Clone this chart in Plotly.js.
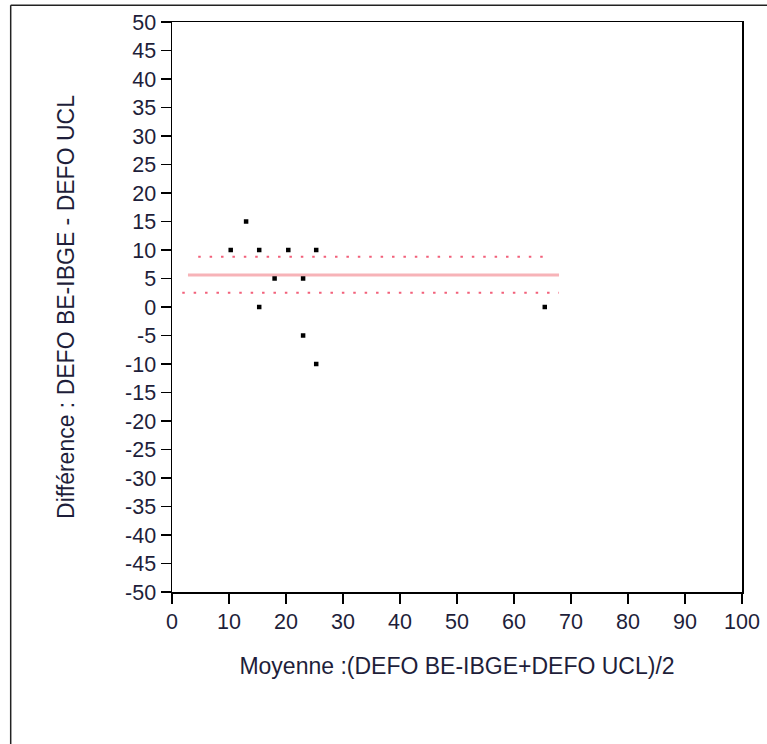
<!DOCTYPE html>
<html>
<head>
<meta charset="utf-8">
<script src="https://cdn.plot.ly/plotly-3.0.1.min.js"></script>
<style>html,body{margin:0;padding:0;background:#fff;}#chart{width:767px;height:744px;}</style>
</head>
<body>
<div id="chart"></div>
<script>
// Data
var moyenne = [10.3, 13.0, 15.3, 15.3, 18.0, 20.4, 23.0, 23.0, 25.3, 25.3, 65.4];
var difference = [10, 15, 10, 0, 5, 10, 5, -5, 10, -10, 0];
var meanX = [2.8, 67.9];
var meanY = [5.6, 5.6];
var upperX = [4.6, 66.6];
var upperY = [8.8, 8.8];
var lowerX = [1.8, 67.9];
var lowerY = [2.5, 2.5];
var xTicks = [0, 10, 20, 30, 40, 50, 60, 70, 80, 90, 100];
var xTickText = ["0", "10", "20", "30", "40", "50", "60", "70", "80", "90", "100"];
var yTicks = [50, 45, 40, 35, 30, 25, 20, 15, 10, 5, 0, -5, -10, -15, -20, -25, -30, -35, -40, -45, -50];
var yTickText = ["50", "45", "40", "35", "30", "25", "20", "15", "10", "5", "0", "-5", "-10", "-15", "-20", "-25", "-30", "-35", "-40", "-45", "-50"];

var txtColor = "#1e1e3a";
var fontFam = "Arial, 'Liberation Sans', sans-serif";

var traces = [
  {x: meanX, y: meanY, mode: "lines", line: {color: "#f7b3b8", width: 3}, hoverinfo: "skip"},
  {x: upperX, y: upperY, mode: "lines", line: {color: "#f2607a", width: 2, dash: "2.5px,8.9px"}, hoverinfo: "skip"},
  {x: lowerX, y: lowerY, mode: "lines", line: {color: "#f2607a", width: 2, dash: "2.5px,8.9px"}, hoverinfo: "skip"},
  {x: moyenne, y: difference, mode: "markers", marker: {symbol: "square", size: 4.5, color: "#000"}}
];

var axisCommon = {
  showgrid: false, zeroline: false,
  showline: true, linecolor: "#000", linewidth: 1.5, mirror: true,
  ticks: "outside", ticklen: 10, tickwidth: 1.5, tickcolor: "#000",
  tickfont: {family: fontFam, size: 21.5, color: txtColor},
  tickmode: "array"
};

var layout = {
  width: 767, height: 744,
  margin: {l: 172, r: 25, t: 22, b: 152},
  paper_bgcolor: "#fff", plot_bgcolor: "#fff",
  showlegend: false,
  xaxis: Object.assign({}, axisCommon, {
    range: [0, 100], tickvals: xTicks, ticktext: xTickText,
    title: {text: "Moyenne :(DEFO BE-IBGE+DEFO UCL)/2", font: {family: fontFam, size: 23, color: txtColor}, standoff: 24}
  }),
  yaxis: Object.assign({}, axisCommon, {
    range: [-50, 50], tickvals: yTicks, ticktext: yTickText,
    title: {text: "Différence : DEFO BE-IBGE - DEFO UCL", font: {family: fontFam, size: 23, color: txtColor}, standoff: 44}
  }),
  shapes: [
    {type: "line", xref: "paper", yref: "paper", x0: -0.283, x1: -0.283, y0: 1.0293, y1: -0.4, line: {color: "#222", width: 1.5}},
    {type: "line", xref: "paper", yref: "paper", x0: -0.283, x1: 1.2, y0: 1.0293, y1: 1.0293, line: {color: "#222", width: 1.5}}
  ]
};

Plotly.newPlot("chart", traces, layout, {staticPlot: true, displayModeBar: false});
</script>
</body>
</html>
